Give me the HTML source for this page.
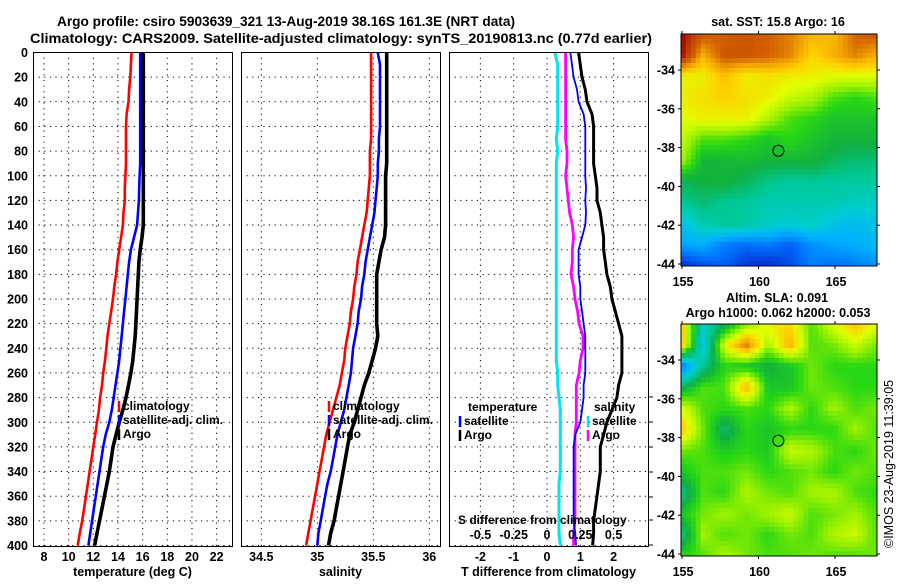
<!DOCTYPE html>
<html><head><meta charset="utf-8"><style>
body{margin:0;background:#fff;}
svg text{font-family:"Liberation Sans",sans-serif;font-weight:bold;fill:#000;}
</style></head><body>
<svg id="c" width="900" height="580" xmlns="http://www.w3.org/2000/svg">
<text x="57" y="26" font-size="14" textLength="458" lengthAdjust="spacingAndGlyphs">Argo profile: csiro 5903639_321 13-Aug-2019 38.16S 161.3E (NRT data)</text>
<text x="30" y="43" font-size="14.2" textLength="622" lengthAdjust="spacingAndGlyphs">Climatology: CARS2009. Satellite-adjusted climatology: synTS_20190813.nc (0.77d earlier)</text>
<text x="778" y="26" font-size="12.5" text-anchor="middle">sat. SST: 15.8 Argo: 16</text>
<text x="777" y="302" font-size="12.5" text-anchor="middle">Altim. SLA: 0.091</text>
<text x="778" y="317" font-size="12.5" text-anchor="middle">Argo h1000: 0.062 h2000: 0.053</text>
<text x="893" y="548" font-size="12.5" transform="rotate(-90 893 548)" style="font-weight:normal">©IMOS 23-Aug-2019 11:39:05</text>
<g id="g"></g>
</svg>
<script>
const depths=[0,10,20,30,40,50,60,70,80,90,100,110,120,130,140,150,160,170,180,190,200,210,220,230,240,250,260,270,280,290,300,310,320,330,340,350,360,370,380,390,400];
const tClim=[15.1,15.05,15.0,14.9,14.85,14.7,14.65,14.65,14.65,14.65,14.6,14.55,14.55,14.45,14.4,14.25,14.1,13.95,13.85,13.7,13.6,13.45,13.3,13.15,13.05,12.95,12.8,12.7,12.55,12.45,12.3,12.15,12.0,11.85,11.7,11.55,11.4,11.25,11.1,10.9,10.73];
const tSat=[15.8,15.8,15.8,15.8,15.8,15.8,15.8,15.8,15.8,15.8,15.75,15.72,15.7,15.62,15.55,15.3,15.05,14.9,14.8,14.7,14.6,14.5,14.4,14.3,14.2,14.1,13.95,13.8,13.65,13.5,13.3,13.0,12.8,12.65,12.5,12.35,12.2,12.05,11.9,11.75,11.6];
const tArgo=[16.05,16.05,16.05,16.05,16.05,16.05,16.05,16.05,16.05,16.05,16.05,16.05,16.05,16.05,16.05,15.95,15.8,15.7,15.65,15.6,15.55,15.5,15.45,15.4,15.3,15.2,15.05,14.85,14.65,14.4,14.1,13.85,13.6,13.45,13.3,13.1,12.9,12.7,12.5,12.3,12.1];
const sClim=[35.48,35.48,35.48,35.48,35.48,35.48,35.48,35.48,35.47,35.47,35.47,35.46,35.45,35.44,35.42,35.4,35.38,35.36,35.35,35.33,35.32,35.3,35.29,35.27,35.25,35.24,35.22,35.2,35.17,35.14,35.11,35.08,35.06,35.04,35.02,35.0,34.98,34.96,34.94,34.92,34.9];
const sSat=[35.54,35.56,35.56,35.56,35.56,35.56,35.56,35.55,35.55,35.54,35.54,35.53,35.52,35.51,35.49,35.47,35.45,35.43,35.42,35.4,35.39,35.37,35.36,35.34,35.32,35.31,35.3,35.28,35.26,35.24,35.21,35.18,35.16,35.14,35.12,35.09,35.07,35.05,35.03,35.01,35.0];
const sArgo=[35.62,35.62,35.62,35.62,35.62,35.62,35.62,35.62,35.62,35.62,35.61,35.61,35.61,35.61,35.61,35.6,35.57,35.55,35.53,35.53,35.53,35.53,35.53,35.54,35.52,35.49,35.46,35.42,35.39,35.36,35.33,35.29,35.27,35.25,35.23,35.21,35.19,35.17,35.15,35.12,35.1];
const depthTicks=[0,20,40,60,80,100,120,140,160,180,200,220,240,260,280,300,320,340,360,380,400];
const tTicks=[8,10,12,14,16,18,20,22];
const sTicks=[34.5,35,35.5,36];
const dTicks=[-2,-1,0,1,2];
const dsTicks=[-0.5,-0.25,0,0.25,0.5];
const dsLabels=["-0.5","-0.25","0","0.25","0.5"];
const latTicks=[-34,-36,-38,-40,-42,-44];
const lonTicks=[155,160,165];
const sstGrid=[
[1.0,0.9,0.88,0.9,0.88,0.85,0.8,0.78,0.88,0.9],
[1.0,0.8,0.9,0.9,0.88,0.85,0.75,0.8,0.85,0.8],
[0.72,0.72,0.78,0.72,0.74,0.72,0.72,0.7,0.7,0.7],
[0.72,0.74,0.76,0.74,0.72,0.68,0.66,0.6,0.58,0.6],
[0.7,0.72,0.72,0.72,0.66,0.6,0.58,0.55,0.55,0.55],
[0.68,0.6,0.6,0.58,0.55,0.58,0.55,0.53,0.53,0.53],
[0.66,0.53,0.53,0.54,0.53,0.53,0.53,0.5,0.48,0.48],
[0.5,0.52,0.53,0.5,0.46,0.44,0.45,0.44,0.44,0.44],
[0.45,0.48,0.45,0.44,0.42,0.42,0.42,0.42,0.4,0.4],
[0.34,0.42,0.45,0.44,0.4,0.38,0.4,0.35,0.33,0.35],
[0.28,0.3,0.22,0.2,0.22,0.18,0.25,0.28,0.3,0.32],
[0.1,0.15,0.18,0.12,0.1,0.15,0.22,0.2,0.22,0.25]];
const slaGrid=[
[0.8,0.4,0.5,0.62,0.72,0.75,0.6,0.7,0.78,0.7],
[0.8,0.35,0.7,0.86,0.65,0.8,0.6,0.62,0.68,0.62],
[0.2,0.45,0.58,0.55,0.52,0.55,0.62,0.58,0.58,0.58],
[0.5,0.6,0.6,0.8,0.55,0.55,0.62,0.6,0.58,0.58],
[0.7,0.6,0.58,0.6,0.58,0.66,0.58,0.65,0.6,0.62],
[0.78,0.62,0.48,0.58,0.55,0.58,0.58,0.58,0.65,0.6],
[0.62,0.6,0.56,0.58,0.56,0.68,0.66,0.6,0.58,0.62],
[0.55,0.6,0.6,0.62,0.58,0.6,0.62,0.58,0.62,0.6],
[0.45,0.6,0.58,0.66,0.62,0.6,0.65,0.66,0.6,0.58],
[0.55,0.62,0.65,0.62,0.65,0.68,0.6,0.62,0.65,0.6],
[0.45,0.65,0.6,0.62,0.58,0.62,0.6,0.66,0.68,0.6],
[0.58,0.6,0.66,0.62,0.6,0.6,0.62,0.6,0.6,0.62]];
const argoLon=161.3, argoLat=-38.16;

const NS='http://www.w3.org/2000/svg';
const G=document.getElementById('g');
function el(tag,attrs,parent){const e=document.createElementNS(NS,tag);for(const k in attrs)e.setAttribute(k,attrs[k]);(parent||G).appendChild(e);return e;}
function txt(x,y,s,size,anchor,parent){const t=el('text',{x:x,y:y,'font-size':size,'text-anchor':anchor||'middle'},parent);t.textContent=s;return t;}
const Y0=52.5,YS=1.2325;
const yD=d=>Y0+d*YS;
const P1={x0:33,x1:232},P2={x0:241,x1:440},P3={x0:449,x1:648};
const xT=v=>44+(v-8)*12.33;
const xS=v=>317.3+(v-35)*112;
const xDT=v=>547+v*33.3;
const xDS=v=>547+v*133.2;
const yTop=52,yBot=546;

function panel(P,name,xticks,xf,labels,title){
  const g=el('g',{});
  
  
  depthTicks.forEach(d=>{
    const l=el('line',{x1:P.x0,x2:P.x1,y1:yD(d),y2:yD(d),stroke:'#000','stroke-width':1,'stroke-dasharray':'1.2 4.4'},g);
    
    
  });
  xticks.forEach((v,i)=>{
    const x=xf(v);
    const l=el('line',{x1:x,x2:x,y1:yTop,y2:yBot,stroke:'#000','stroke-width':1,'stroke-dasharray':'1.2 4.4'},g);
    
    
    if(labels){const t=txt(x,561,labels[i],12.5,'middle',g);
    
    }
  });
  const t=txt((P.x0+P.x1)/2,576,title,12.5,'middle',g);
  
  
  return g;
}
function series(g,vals,xf,color,w,name){
  const pts=depths.map((d,i)=>xf(vals[i]).toFixed(1)+','+yD(d).toFixed(1)).join(' ');
  const p=el('polyline',{points:pts,fill:'none',stroke:color,'stroke-width':w,'stroke-linejoin':'miter'},g);
  
  
}
function frame(P,g){const r=el('rect',{x:P.x0+0.5,y:yTop+0.5,width:P.x1-P.x0,height:yBot-yTop,fill:'none',stroke:'#000','stroke-width':1},g);
  
  }
function legend(g,x,y,items){
  items.forEach((it,i)=>{
    const l=el('line',{x1:x,x2:x,y1:y+i*14-9,y2:y+i*14+2,stroke:it[1],'stroke-width':2.5},g);
    
    
    const t=txt(x+4,y+i*14,it[0],12,'start',g);
    
    
  });
}
const g1=panel(P1,'temperature-panel',tTicks,xT,tTicks.map(String),'temperature (deg C)');
series(g1,tClim,xT,'#ff0000',2.6,'temp-climatology-line');
series(g1,tSat,xT,'#0000ff',2.6,'temp-satellite-line');
series(g1,tArgo,xT,'#000',3.6,'temp-argo-line');
legend(g1,119,410,[['climatology','#ff0000'],['satellite-adj. clim.','#0000ff'],['Argo','#000']]);
frame(P1,g1);
depthTicks.forEach(d=>{const t=txt(28,yD(d)+4.5,String(d),12.5,'end',g1);
  
  });
const g2=panel(P2,'salinity-panel',sTicks,xS,['34.5','35','35.5','36'],'salinity');
series(g2,sClim,xS,'#ff0000',2.6,'sal-climatology-line');
series(g2,sSat,xS,'#0000ff',2.6,'sal-satellite-line');
series(g2,sArgo,xS,'#000',3.6,'sal-argo-line');
legend(g2,329,410,[['climatology','#ff0000'],['satellite-adj. clim.','#0000ff'],['Argo','#000']]);
frame(P2,g2);
const g3=panel(P3,'difference-panel',dTicks,xDT,dTicks.map(String),'T difference from climatology');
const dSsat=sSat.map((v,i)=>v-sClim[i]);
const dSargo=sArgo.map((v,i)=>v-sClim[i]);
const dTsat=tSat.map((v,i)=>v-tClim[i]);
const dTargo=tArgo.map((v,i)=>v-tClim[i]);
series(g3,dSsat,xDS,'#00e5ee',3,'sal-diff-satellite-line');
series(g3,dSargo,xDS,'#ff00ff',2.8,'sal-diff-argo-line');
series(g3,dTsat,xDT,'#0000ff',1.8,'temp-diff-satellite-line');
series(g3,dTargo,xDT,'#000',3,'temp-diff-argo-line');
let tt=txt(468,411,'temperature',12,'start',g3);
legend(g3,460,425,[['satellite','#0000ff'],['Argo','#000']]);
tt=txt(594,411,'salinity',12,'start',g3);
legend(g3,588,425,[['satellite','#00e5ee'],['Argo','#ff00ff']]);
tt=txt(458,524,'S difference from climatology',12,'start',g3);
dsTicks.forEach((v,i)=>{const t=txt(xDS(v),539,dsLabels[i],12.5,'middle',g3);
  
  });
frame(P3,g3);
[397,422,447,472,497,520,545].forEach(y=>{const l=el('line',{x1:649,x2:653,y1:y,y2:y,stroke:'#000'},g3);
  
  });

const stops=[[0,[0,0,128]],[0.1,[0,40,200]],[0.2,[0,110,255]],[0.3,[0,176,255]],[0.38,[0,205,210]],[0.45,[0,200,150]],[0.52,[16,176,64]],[0.58,[40,215,20]],[0.64,[150,240,0]],[0.7,[225,255,0]],[0.76,[255,208,0]],[0.82,[240,160,0]],[0.88,[210,96,0]],[0.94,[190,64,0]],[1.0,[160,0,0]]];
function cmap(v){v=Math.max(0,Math.min(1,v));for(let i=1;i<stops.length;i++){if(v<=stops[i][0]){const a=stops[i-1],b=stops[i],f=(v-a[0])/(b[0]-a[0]);return 'rgb('+a[1].map((c,k)=>Math.round(c+(b[1][k]-c)*f)).join(',')+')';}}return 'rgb(160,0,0)';}
function interp(grid,u,v){const R=grid.length-1,C=grid[0].length-1;const y=v*R,x=u*C;const i=Math.min(R-1,Math.floor(y)),j=Math.min(C-1,Math.floor(x));const fy=y-i,fx=x-j;
  return grid[i][j]*(1-fx)*(1-fy)+grid[i][j+1]*fx*(1-fy)+grid[i+1][j]*(1-fx)*fy+grid[i+1][j+1]*fx*fy;}
function drawMap(grid,M,name,lonY){
  const g=el('g',{});
  
  
  const nx=40,ny=48,cw=(M.x1-M.x0)/nx,ch=(M.y1-M.y0)/ny;
  for(let r=0;r<ny;r++)for(let c=0;c<nx;c++){
    const v=interp(grid,(c+0.5)/nx,(r+0.5)/ny);
    el('rect',{x:(M.x0+c*cw).toFixed(2),y:(M.y0+r*ch).toFixed(2),width:(cw+0.4).toFixed(2),height:(ch+0.4).toFixed(2),fill:cmap(v)},g);
  }
  const lonX=lon=>682+(lon-155)*15.3;
  const latY=lat=>M.lat34+(-34-lat)*19.4;
  const fr=el('rect',{x:M.x0,y:M.y0,width:M.x1-M.x0,height:M.y1-M.y0,fill:'none',stroke:'#000','stroke-width':1},g);
  
  
  latTicks.forEach(l=>{const y=latY(l);
    el('line',{x1:M.x0-3,x2:M.x0,y1:y,y2:y,stroke:'#000'},g);
    el('line',{x1:M.x1,x2:M.x1+3,y1:y,y2:y,stroke:'#000'},g);
    const t=txt(675,y+4.5,String(l),12.5,'end',g);
    
    });
  lonTicks.forEach(l=>{const x=lonX(l);
    el('line',{x1:x,x2:x,y1:M.y0-3,y2:M.y0,stroke:'#000'},g);
    el('line',{x1:x,x2:x,y1:M.y1,y2:M.y1+3,stroke:'#000'},g);
    const t=txt(x+1,lonY,String(l),12.5,'middle',g);
    
    });
  const cx=lonX(argoLon),cy=latY(argoLat);
  const ci=el('circle',{cx:cx,cy:cy,r:5.5,fill:cmap(interp(grid,(cx-M.x0)/(M.x1-M.x0),(cy-M.y0)/(M.y1-M.y0))),stroke:'#000','stroke-width':1},g);
  
  
}
drawMap(sstGrid,{x0:681,x1:877,y0:34,y1:266,lat34:70},'sst-map',286);
drawMap(slaGrid,{x0:681,x1:877,y0:324,y1:556,lat34:360},'sla-map',576);
</script>
</body></html>
